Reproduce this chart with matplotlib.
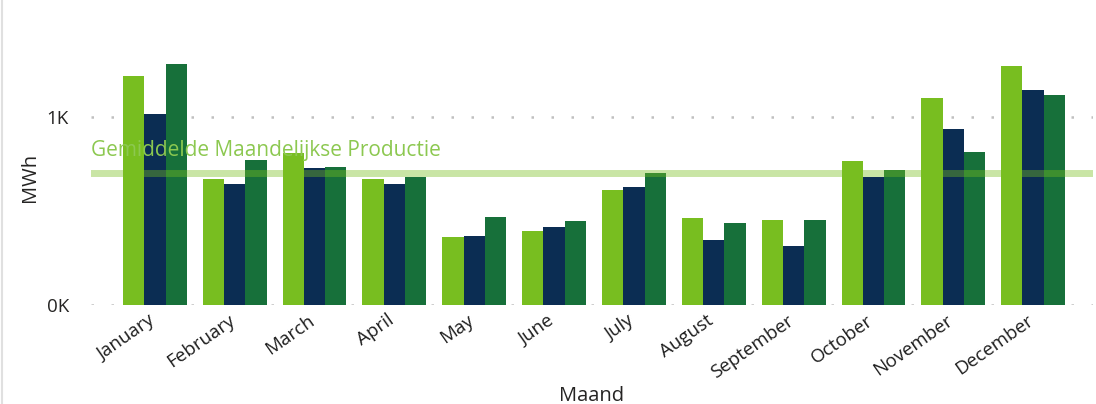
import matplotlib.pyplot as plt
import matplotlib.transforms as mtransforms
import numpy as np

# monthly production per series (MWh)
months = ['January', 'February', 'March', 'April', 'May', 'June',
          'July', 'August', 'September', 'October', 'November', 'December']
series_a = [1217, 668, 806, 668, 359, 391, 610, 461, 450, 764, 1100, 1270]
series_b = [1014, 641, 727, 641, 365, 413, 626, 343, 311, 679, 934, 1142]
series_c = [1281, 769, 732, 679, 466, 445, 700, 434, 450, 716, 812, 1116]
avg_production = 699

colors = ['#78BE20', '#0B2D53', '#17703A']
plt.rcParams['font.family'] = ['Open Sans', 'DejaVu Sans']

fig = plt.figure(figsize=(10.96, 4.04), dpi=100)
ax = fig.add_axes([91 / 1096, 99.5 / 404, (1093 - 91) / 1096, (353 - 99.5) / 404])

x = np.arange(len(months))
w = 0.8 / 3
for i, (vals, col) in enumerate(zip([series_a, series_b, series_c], colors)):
    ax.bar(x + (i - 1) * w, vals, width=w, color=col, zorder=2)

ax.set_xlim(-0.8, 11.75)
ax.set_ylim(0, 1350)

# average line + label
ax.axhline(avg_production, color='#78BE20', alpha=0.4, linewidth=5, zorder=3)
ax.text(-0.8, avg_production + 65, 'Gemiddelde Maandelijkse Productie',
        color='#8CC850', fontsize=15, ha='left', va='bottom', zorder=4)

ax.set_yticks([0, 1000])
ax.set_yticklabels(['0K', '1K'], fontsize=13.5, color='#252423')
ax.yaxis.grid(True, linestyle=(0, (1, 7)), color='#C0C0C0', linewidth=1.8, zorder=0)
ax.set_xticks(x)
ax.set_xticklabels(months, rotation=35, ha='right', rotation_mode='anchor',
                   fontsize=13.5, color='#1E1E1E')
ax.tick_params(axis='both', length=0)
ax.tick_params(axis='y', pad=16)
ax.tick_params(axis='x', pad=5)

# nudge month labels a bit to the left
shift = mtransforms.ScaledTranslation(-7 / 100, 0, fig.dpi_scale_trans)
for lbl in ax.get_xticklabels():
    lbl.set_transform(lbl.get_transform() + shift)

for s in ax.spines.values():
    s.set_visible(False)

ax.set_ylabel('MWh', fontsize=14.5, color='#252423', labelpad=5)
ax.set_xlabel('Maand', fontsize=14.5, color='#252423', labelpad=3)

# card border on the left
fig.add_artist(plt.Line2D([0.002, 0.002], [0, 1], color='#E0E0E0', linewidth=1.5))

fig.savefig('out.png', dpi=100)
